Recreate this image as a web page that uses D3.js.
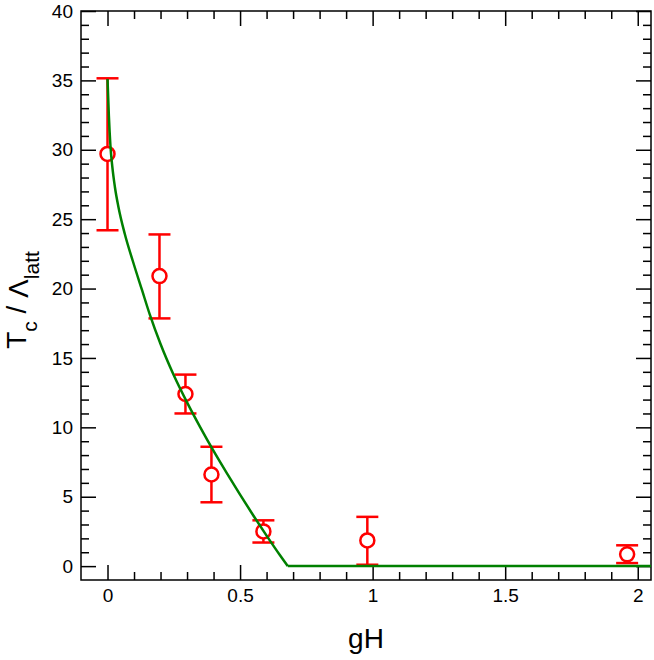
<!DOCTYPE html>
<html>
<head>
<meta charset="utf-8">
<script src="https://cdn.jsdelivr.net/npm/d3@7"></script>
<style>
  html, body { margin: 0; padding: 0; background: #fff; }
  svg { display: block; font-family: "Liberation Sans", Arial, Helvetica, sans-serif; }
</style>
</head>
<body>
<svg id="chart" width="654" height="660"></svg>
<script>
// ---- data ----
const pointX   = [0, 0.196, 0.294, 0.392, 0.588, 0.98, 1.96];
const pointY   = [29.7, 20.9, 12.4, 6.6, 2.5, 1.85, 0.85];
const errLow   = [24.2, 17.85, 11.0, 4.6, 1.7, 0.1, 0.22];
const errHigh  = [35.15, 23.9, 13.8, 8.6, 3.3, 3.55, 1.5];

// fitted curve: curved part up to the critical point, then flat
const curveX = [0, 0.005, 0.011, 0.018, 0.028, 0.041, 0.065, 0.096, 0.13, 0.16, 0.2, 0.25, 0.3, 0.35, 0.4, 0.45, 0.5, 0.55, 0.6, 0.65, 0.68];
const curveY = [35.1, 32.5, 30.3, 28.8, 27.3, 25.9, 23.95, 21.95, 19.9, 18.1, 16.0, 13.75, 11.8, 10.0, 8.3, 6.7, 5.15, 3.65, 2.2, 0.8, 0];
const flatX  = [0.68, 2.05];
const flatY  = [0, 0];

const xMajorTicks = [0, 0.5, 1, 1.5, 2];
const xMinorTicks = [0.1, 0.2, 0.3, 0.4, 0.6, 0.7, 0.8, 0.9, 1.1, 1.2, 1.3, 1.4, 1.6, 1.7, 1.8, 1.9];
const yMajorTicks = [0, 5, 10, 15, 20, 25, 30, 35, 40];
const yMinorTicks = [1,2,3,4,6,7,8,9,11,12,13,14,16,17,18,19,21,22,23,24,26,27,28,29,31,32,33,34,36,37,38,39];

const xTitle = "gH";

// ---- layout ----
const L = 81, R = 651, T = 11, B = 580;
const svg = d3.select("#chart");
const x = d3.scaleLinear().domain([-0.1, 2.05]).range([L, R]);
const y = d3.scaleLinear().domain([-1, 40]).range([B, T]);

const MAJ = 15, MIN = 8;
function styleAxis(g) {
  g.select(".domain").remove();
  g.selectAll(".tick line").attr("stroke", "#000").attr("stroke-width", 1.5);
  g.selectAll(".tick text").attr("fill", "#000").attr("font-size", 19)
    .attr("font-family", '"Liberation Sans", Arial, Helvetica, sans-serif');
}

// bottom
svg.append("g").attr("transform", `translate(0,${B})`)
  .call(d3.axisBottom(x).tickValues(xMajorTicks).tickSize(-MAJ).tickPadding(9).tickFormat(d3.format("")))
  .call(styleAxis);
svg.append("g").attr("transform", `translate(0,${B})`)
  .call(d3.axisBottom(x).tickValues(xMinorTicks).tickSize(-MIN).tickFormat(""))
  .call(styleAxis);
// top
svg.append("g").attr("transform", `translate(0,${T})`)
  .call(d3.axisTop(x).tickValues(xMajorTicks).tickSize(-MAJ).tickFormat(""))
  .call(styleAxis);
svg.append("g").attr("transform", `translate(0,${T})`)
  .call(d3.axisTop(x).tickValues(xMinorTicks).tickSize(-MIN).tickFormat(""))
  .call(styleAxis);
// left
svg.append("g").attr("transform", `translate(${L},0)`)
  .call(d3.axisLeft(y).tickValues(yMajorTicks).tickSize(-MAJ).tickPadding(8).tickFormat(d3.format("")))
  .call(styleAxis);
svg.append("g").attr("transform", `translate(${L},0)`)
  .call(d3.axisLeft(y).tickValues(yMinorTicks).tickSize(-MIN).tickFormat(""))
  .call(styleAxis);
// right
svg.append("g").attr("transform", `translate(${R},0)`)
  .call(d3.axisRight(y).tickValues(yMajorTicks).tickSize(-MAJ).tickFormat(""))
  .call(styleAxis);
svg.append("g").attr("transform", `translate(${R},0)`)
  .call(d3.axisRight(y).tickValues(yMinorTicks).tickSize(-MIN).tickFormat(""))
  .call(styleAxis);

// frame
svg.append("rect").attr("x", L).attr("y", T).attr("width", R - L).attr("height", B - T)
  .attr("fill", "none").attr("stroke", "#000").attr("stroke-width", 1.5);

// error bars
const pts = pointX.map((d, i) => ({x: d, y: pointY[i], lo: errLow[i], hi: errHigh[i]}));
const red = "#ff0000";
const cap = 11;
const eb = svg.append("g").attr("stroke", red).attr("stroke-width", 2.5).attr("fill", "none");
pts.forEach(p => {
  eb.append("line").attr("x1", x(p.x)).attr("x2", x(p.x)).attr("y1", y(p.lo)).attr("y2", y(p.hi));
  eb.append("line").attr("x1", x(p.x) - cap).attr("x2", x(p.x) + cap).attr("y1", y(p.lo)).attr("y2", y(p.lo));
  eb.append("line").attr("x1", x(p.x) - cap).attr("x2", x(p.x) + cap).attr("y1", y(p.hi)).attr("y2", y(p.hi));
});
svg.append("g").selectAll("circle").data(pts).join("circle")
  .attr("cx", d => x(d.x)).attr("cy", d => y(d.y)).attr("r", 7)
  .attr("fill", "#fff").attr("stroke", red).attr("stroke-width", 2.5);

// curve
const green = "#008000";
svg.append("path").datum(curveX.map((d, i) => [d, curveY[i]]))
  .attr("d", d3.line().x(d => x(d[0])).y(d => y(d[1])).curve(d3.curveMonotoneX))
  .attr("fill", "none").attr("stroke", green).attr("stroke-width", 2.5).attr("stroke-linejoin", "round");
svg.append("path").datum(flatX.map((d, i) => [d, flatY[i]]))
  .attr("d", d3.line().x(d => x(d[0])).y(d => y(d[1])))
  .attr("fill", "none").attr("stroke", green).attr("stroke-width", 2.5);

// axis titles
svg.append("text").attr("x", (L + R) / 2).attr("y", 648).attr("text-anchor", "middle")
  .attr("font-size", 28).attr("fill", "#000").text(xTitle);

const yt = svg.append("text").attr("transform", "translate(26,300) rotate(-90)")
  .attr("text-anchor", "middle").attr("font-size", 28).attr("fill", "#000");
yt.append("tspan").text("T");
yt.append("tspan").attr("font-size", 21).attr("dy", 11).text("c");
yt.append("tspan").attr("dy", -11).text("\u00A0/\u00A0");
yt.append("tspan").attr("dy", 2).text("Λ");
yt.append("tspan").attr("font-size", 21).attr("dy", 11).text("latt");
</script>
</body>
</html>
